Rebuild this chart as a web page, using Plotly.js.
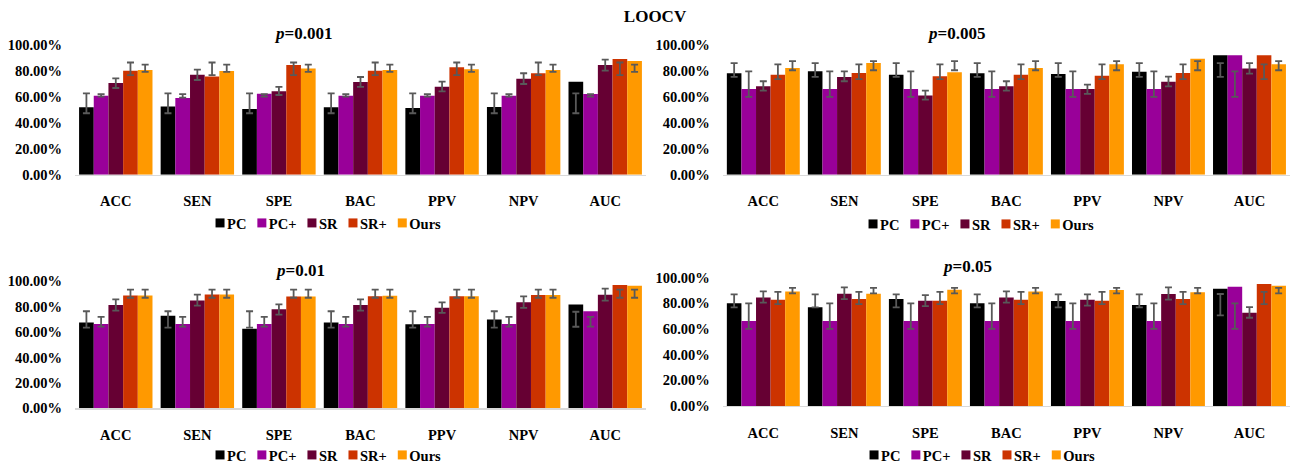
<!DOCTYPE html>
<html>
<head>
<meta charset="utf-8">
<script src="https://cdn.plot.ly/plotly-3.0.1.min.js"></script>
<style>
  html, body { margin: 0; padding: 0; background: #ffffff; }
  #wrap { position: relative; width: 1291px; height: 471px; }
  .panel { position: absolute; left: 0; top: 0; width: 1291px; height: 471px; }
</style>
</head>
<body>
<div id="wrap"></div>
<script>
// ---------- data (percent) ----------
const categories = ['ACC', 'SEN', 'SPE', 'BAC', 'PPV', 'NPV', 'AUC'];
const methods = ['PC', 'PC+', 'SR', 'SR+', 'Ours'];
const methodColors = ['#000000', '#990099', '#660033', '#cc3300', '#ff9900'];
const yTicks = [0, 20, 40, 60, 80, 100];
const yTickLabels = ['0.00%', '20.00%', '40.00%', '60.00%', '80.00%', '100.00%'];

// p = 0.001
const p001_PC   = [52.1, 52.8, 50.8, 52.1, 51.5, 52.3, 71.9];
const p001_PCp  = [61.1, 59.3, 62.6, 61.1, 61.1, 61.1, 62.4];
const p001_SR   = [70.9, 77.3, 64.4, 71.6, 68.0, 74.2, 84.8];
const p001_SRp  = [80.4, 75.8, 84.8, 80.4, 83.0, 78.4, 89.4];
const p001_Ours = [80.9, 80.2, 82.0, 80.9, 81.4, 80.9, 87.9];
const p001_PC_lo   = [47.5, 47.5, 47.5, 47.5, 47.5, 47.5, 47.5];
const p001_PC_hi   = [62.8, 62.8, 62.8, 62.8, 62.8, 62.8, 62.8];
const p001_PCp_lo  = [60.4, 59.6, 60.4, 60.4, 60.4, 60.4, 60.4];
const p001_PCp_hi  = [62.3, 62.3, 62.3, 62.3, 62.3, 62.3, 62.3];
const p001_SR_lo   = [67.0, 73.2, 61.6, 67.8, 64.4, 70.1, 80.4];
const p001_SR_hi   = [74.5, 81.2, 67.8, 75.5, 71.9, 78.4, 88.9];
const p001_SRp_lo  = [76.9, 76.9, 76.9, 76.9, 76.9, 76.9, 76.9];
const p001_SRp_hi  = [86.7, 86.7, 86.7, 86.7, 86.7, 86.7, 86.7];
const p001_Ours_lo = [79.5, 79.5, 79.5, 79.5, 79.5, 79.5, 79.5];
const p001_Ours_hi = [85.1, 85.1, 85.1, 85.1, 85.1, 85.1, 85.1];

// p = 0.005
const p005_PC   = [78.4, 79.9, 77.3, 78.4, 77.8, 79.6, 92.3];
const p005_PCp  = [66.2, 66.2, 66.2, 66.2, 66.2, 66.2, 92.3];
const p005_SR   = [68.3, 75.5, 61.3, 68.3, 66.2, 71.9, 82.0];
const p005_SRp  = [77.3, 78.6, 76.0, 77.3, 76.5, 78.6, 92.3];
const p005_Ours = [82.5, 86.3, 79.1, 82.5, 85.3, 89.7, 85.3];
const p005_PC_lo   = [75.6, 75.6, 75.6, 75.6, 75.6, 75.6, 75.6];
const p005_PC_hi   = [86.2, 86.2, 86.2, 86.2, 86.2, 86.2, 86.2];
const p005_PCp_lo  = [60.1, 60.1, 60.1, 60.1, 60.1, 60.1, 60.1];
const p005_PCp_hi  = [79.9, 79.9, 79.9, 79.9, 79.9, 79.9, 79.9];
const p005_SR_lo   = [64.9, 72.2, 58.0, 64.9, 62.4, 68.3, 78.1];
const p005_SR_hi   = [72.2, 79.9, 64.9, 72.2, 69.6, 75.8, 86.3];
const p005_SRp_lo  = [73.8, 73.8, 73.8, 73.8, 73.8, 73.8, 73.8];
const p005_SRp_hi  = [85.3, 85.3, 85.3, 85.3, 85.3, 85.3, 85.3];
const p005_Ours_lo = [80.7, 80.7, 80.7, 80.7, 80.7, 80.7, 80.7];
const p005_Ours_hi = [87.7, 87.7, 87.7, 87.7, 87.7, 87.7, 87.7];

// p = 0.01
const p01_PC   = [67.5, 72.7, 62.6, 67.5, 66.0, 69.8, 81.5];
const p01_PCp  = [66.2, 66.2, 66.2, 66.2, 66.2, 66.2, 76.2];
const p01_SR   = [81.2, 84.8, 77.8, 81.2, 79.1, 83.4, 89.2];
const p01_SRp  = [88.7, 89.4, 87.9, 88.1, 88.1, 89.0, 96.9];
const p01_Ours = [88.7, 89.4, 87.9, 88.4, 88.1, 89.0, 96.4];
const p01_PC_lo   = [63.4, 63.4, 63.4, 63.4, 63.4, 63.4, 64.1];
const p01_PC_hi   = [76.3, 76.3, 76.3, 76.3, 76.3, 76.3, 75.9];
const p01_PCp_lo  = [64.2, 64.2, 64.2, 64.2, 64.2, 64.2, 64.2];
const p01_PCp_hi  = [71.9, 71.9, 71.9, 71.9, 71.9, 71.9, 71.9];
const p01_SR_lo   = [76.8, 80.7, 73.7, 76.8, 75.0, 79.0, 84.6];
const p01_SR_hi   = [85.6, 89.4, 81.7, 85.6, 83.2, 87.9, 94.0];
const p01_SRp_lo  = [86.9, 86.9, 86.9, 86.9, 86.9, 86.9, 86.9];
const p01_SRp_hi  = [93.3, 93.3, 93.3, 93.3, 93.3, 93.3, 93.3];
const p01_Ours_lo = [86.9, 86.9, 86.9, 86.9, 86.9, 86.9, 86.9];
const p01_Ours_hi = [93.3, 93.3, 93.3, 93.3, 93.3, 93.3, 93.3];

// p = 0.05
const p05_PC   = [79.9, 76.8, 83.2, 79.9, 81.7, 78.6, 91.3];
const p05_PCp  = [66.2, 66.2, 66.2, 66.2, 66.2, 66.2, 92.8];
const p05_SR   = [84.5, 87.4, 82.0, 84.5, 82.7, 87.1, 72.6];
const p05_SRp  = [82.7, 83.2, 82.0, 82.7, 82.0, 83.3, 94.9];
const p05_Ours = [89.2, 87.4, 90.5, 89.2, 90.2, 88.5, 93.6];
const p05_PC_lo   = [76.8, 76.8, 76.8, 76.8, 76.8, 76.8, 70.5];
const p05_PC_hi   = [86.9, 86.9, 86.9, 86.9, 86.9, 86.9, 87.2];
const p05_PCp_lo  = [60.1, 60.1, 60.1, 60.1, 60.1, 60.1, 60.1];
const p05_PCp_hi  = [79.9, 79.9, 79.9, 79.9, 79.9, 79.9, 79.9];
const p05_SR_lo   = [80.4, 83.2, 77.8, 80.4, 78.1, 82.8, 68.7];
const p05_SR_hi   = [89.2, 92.3, 86.3, 89.2, 86.9, 92.3, 76.9];
const p05_SRp_lo  = [79.3, 79.3, 79.3, 79.3, 79.3, 79.3, 79.3];
const p05_SRp_hi  = [88.9, 88.9, 88.9, 88.9, 88.9, 88.9, 88.9];
const p05_Ours_lo = [87.6, 87.6, 87.6, 87.6, 87.6, 87.6, 87.6];
const p05_Ours_hi = [92.0, 92.0, 92.0, 92.0, 92.0, 92.0, 92.0];

const panelLabels = ['0.001', '0.005', '0.01', '0.05'];
const panelValues = [
  [p001_PC, p001_PCp, p001_SR, p001_SRp, p001_Ours],
  [p005_PC, p005_PCp, p005_SR, p005_SRp, p005_Ours],
  [p01_PC, p01_PCp, p01_SR, p01_SRp, p01_Ours],
  [p05_PC, p05_PCp, p05_SR, p05_SRp, p05_Ours]
];
const panelLo = [
  [p001_PC_lo, p001_PCp_lo, p001_SR_lo, p001_SRp_lo, p001_Ours_lo],
  [p005_PC_lo, p005_PCp_lo, p005_SR_lo, p005_SRp_lo, p005_Ours_lo],
  [p01_PC_lo, p01_PCp_lo, p01_SR_lo, p01_SRp_lo, p01_Ours_lo],
  [p05_PC_lo, p05_PCp_lo, p05_SR_lo, p05_SRp_lo, p05_Ours_lo]
];
const panelHi = [
  [p001_PC_hi, p001_PCp_hi, p001_SR_hi, p001_SRp_hi, p001_Ours_hi],
  [p005_PC_hi, p005_PCp_hi, p005_SR_hi, p005_SRp_hi, p005_Ours_hi],
  [p01_PC_hi, p01_PCp_hi, p01_SR_hi, p01_SRp_hi, p01_Ours_hi],
  [p05_PC_hi, p05_PCp_hi, p05_SR_hi, p05_SRp_hi, p05_Ours_hi]
];

// ---------- layout geometry (pixels in the 1291x471 canvas) ----------
const W = 1291, H = 471;
const FONT = 'Liberation Serif, Times New Roman, serif';
const FONT_SIZE = 14.5;
const px = v => v / W;
const py = v => 1 - v / H;

const xDomains = [[px(75), px(646)], [px(722.8), px(1290)], [px(75), px(646)], [px(722.8), px(1290)]];
const yDomains = [[py(174.7), py(45.3)], [py(174.7), py(45.3)], [py(414.5), py(285.3)], [py(408.7), py(279.3)]];
const subTitlePos = [[303, 34], [956, 34], [300, 275], [967, 268]];
const legendPos = [[324, 223], [977, 224], [324, 462], [978, 458]];

// Tighten the legend row (Excel-style: small swatch right next to its label).
function compactLegend(gd) {
  const ctx = document.createElement('canvas').getContext('2d');
  ctx.font = 'bold ' + FONT_SIZE + 'px "Liberation Serif"';
  const lg = gd.querySelector('g.legend');
  if (!lg) return;
  const items = Array.from(lg.querySelectorAll('g.traces'));
  if (!items.length) return;
  const parse = el => {
    const m = /translate\(\s*([-\d.]+)[ ,]+([-\d.]+)\s*\)/.exec(el.getAttribute('transform') || '');
    return m ? [parseFloat(m[1]), parseFloat(m[2])] : [0, 0];
  };
  const info = items.map(el => {
    const t = el.querySelector('text.legendtext');
    const w = t ? ctx.measureText(t.textContent).width : 0;
    const tx = t ? (parseFloat(t.getAttribute('x')) || 40) : 40;
    return {el, t, w, tx, pos: parse(el)};
  });
  const half = 4.5, cx = 20, textX = cx + half + 2.5, gap = 11;
  const origLeft = info[0].pos[0] + cx - 6;
  const last = info[info.length - 1];
  const origRight = last.pos[0] + last.tx + last.w;
  const newX = [0];
  for (let i = 1; i < info.length; i++) {
    newX.push(newX[i - 1] + textX + info[i - 1].w + gap - (cx - half));
  }
  const newLeft = cx - half;
  const newRight = newX[newX.length - 1] + textX + last.w;
  const shift = (origLeft + origRight) / 2 - (newLeft + newRight) / 2;
  info.forEach((d, i) => {
    d.el.setAttribute('transform', 'translate(' + (newX[i] + shift) + ',' + d.pos[1] + ')');
    if (d.t) d.t.setAttribute('x', textX);
    d.el.querySelectorAll('g.legendpoints path').forEach(p => {
      const tr = p.getAttribute('transform') || '';
      p.setAttribute('transform', tr + ' scale(' + (half / 6) + ')');
    });
  });
}

const wrap = document.getElementById('wrap');

panelValues.forEach((vals, k) => {
  const div = document.createElement('div');
  div.className = 'panel';
  wrap.appendChild(div);

  const traces = vals.map((v, m) => {
    const lo = panelLo[k][m], hi = panelHi[k][m];
    return {
      type: 'bar',
      name: methods[m],
      x: categories,
      y: v,
      marker: {color: methodColors[m], line: {width: 0}},
      error_y: {
        type: 'data', symmetric: false, visible: true,
        array: v.map((val, i) => hi[i] - val),
        arrayminus: v.map((val, i) => val - lo[i]),
        color: '#595959', thickness: 1.8, width: 3.5
      },
      hoverinfo: 'skip'
    };
  });

  const layout = {
    width: W, height: H,
    margin: {l: 0, r: 0, t: 0, b: 0},
    paper_bgcolor: 'rgba(0,0,0,0)', plot_bgcolor: 'rgba(0,0,0,0)',
    barmode: 'group', bargap: 0.1, bargroupgap: 0,
    font: {family: FONT, color: '#000000'},
    xaxis: {
      domain: xDomains[k],
      type: 'category', categoryorder: 'array', categoryarray: categories,
      showline: true, linecolor: '#d9d9d9', linewidth: 1.3,
      showgrid: false, zeroline: false, ticks: '',
      ticklabelstandoff: 13,
      tickfont: {family: FONT, size: FONT_SIZE, weight: 'bold', color: '#000000'},
      fixedrange: true
    },
    yaxis: {
      domain: yDomains[k],
      range: [0, 100], tickmode: 'array', tickvals: yTicks, ticktext: yTickLabels,
      showline: false, showgrid: false, zeroline: false, ticks: '',
      ticklabelstandoff: 12,
      tickfont: {family: FONT, size: FONT_SIZE, weight: 'bold', color: '#000000'},
      fixedrange: true
    },
    showlegend: true,
    legend: {
      orientation: 'h', x: px(legendPos[k][0]), xanchor: 'center',
      y: py(legendPos[k][1]), yanchor: 'middle',
      xref: 'paper', yref: 'paper',
      bgcolor: 'rgba(0,0,0,0)', borderwidth: 0,
      font: {family: FONT, size: FONT_SIZE, weight: 'bold', color: '#000000'},
      itemwidth: 30,
      traceorder: 'normal'
    },
    annotations: [{
      text: '<b><i>p</i>=' + panelLabels[k] + '</b>',
      xref: 'paper', yref: 'paper',
      x: px(subTitlePos[k][0]), y: py(subTitlePos[k][1]),
      xanchor: 'center', yanchor: 'middle', showarrow: false,
      font: {family: FONT, size: 17, color: '#000000'}
    }]
  };
  if (k === 0) {
    layout.title = {text: '<b>LOOCV</b>', x: px(655), xanchor: 'center', y: py(16), yanchor: 'middle',
                    xref: 'paper', yref: 'paper', font: {family: FONT, size: 17, color: '#000000'}};
  }

  Plotly.newPlot(div, traces, layout, {staticPlot: true, displayModeBar: false})
    .then(gd => { try { compactLegend(gd); } catch (e) { console.log(e); } });
});
</script>
</body>
</html>
